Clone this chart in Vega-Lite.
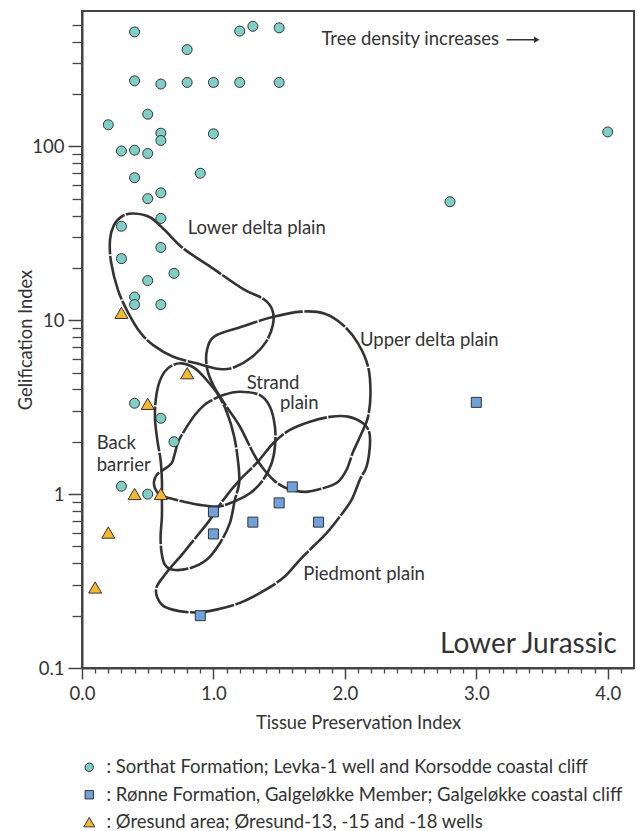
{
  "$schema": "https://vega.github.io/schema/vega-lite/v6.json",
  "width": 552,
  "height": 657,
  "autosize": {"type": "none"},
  "padding": {"left": 82, "top": 11, "right": 3, "bottom": 163},
  "background": "white",
  "config": {
    "font": "Lato",
    "view": {"stroke": "#444", "strokeWidth": 2},
    "axis": {"grid": false, "labelFont": "Lato", "titleFont": "Lato", "labelColor": "#333", "titleColor": "#333", "tickColor": "#444", "domainColor": "#444", "labelFlush": false, "labelOverlap": false, "titleFontWeight": "normal"},
    "legend": {"labelFont": "Lato", "labelColor": "#333"}
  },
  "datasets": {
    "points": [
      {"x": 0.4, "y": 455, "g": "Sorthat Formation; Levka-1 well and Korsodde coastal cliff"},
      {"x": 1.2, "y": 460, "g": "Sorthat Formation; Levka-1 well and Korsodde coastal cliff"},
      {"x": 1.3, "y": 490, "g": "Sorthat Formation; Levka-1 well and Korsodde coastal cliff"},
      {"x": 1.5, "y": 480, "g": "Sorthat Formation; Levka-1 well and Korsodde coastal cliff"},
      {"x": 0.8, "y": 360, "g": "Sorthat Formation; Levka-1 well and Korsodde coastal cliff"},
      {"x": 0.4, "y": 238, "g": "Sorthat Formation; Levka-1 well and Korsodde coastal cliff"},
      {"x": 0.6, "y": 228, "g": "Sorthat Formation; Levka-1 well and Korsodde coastal cliff"},
      {"x": 0.8, "y": 233, "g": "Sorthat Formation; Levka-1 well and Korsodde coastal cliff"},
      {"x": 1.0, "y": 233, "g": "Sorthat Formation; Levka-1 well and Korsodde coastal cliff"},
      {"x": 1.2, "y": 233, "g": "Sorthat Formation; Levka-1 well and Korsodde coastal cliff"},
      {"x": 1.5, "y": 233, "g": "Sorthat Formation; Levka-1 well and Korsodde coastal cliff"},
      {"x": 0.5, "y": 153, "g": "Sorthat Formation; Levka-1 well and Korsodde coastal cliff"},
      {"x": 0.2, "y": 133, "g": "Sorthat Formation; Levka-1 well and Korsodde coastal cliff"},
      {"x": 0.6, "y": 119, "g": "Sorthat Formation; Levka-1 well and Korsodde coastal cliff"},
      {"x": 0.6, "y": 108, "g": "Sorthat Formation; Levka-1 well and Korsodde coastal cliff"},
      {"x": 1.0, "y": 118, "g": "Sorthat Formation; Levka-1 well and Korsodde coastal cliff"},
      {"x": 0.3, "y": 94, "g": "Sorthat Formation; Levka-1 well and Korsodde coastal cliff"},
      {"x": 0.4, "y": 95, "g": "Sorthat Formation; Levka-1 well and Korsodde coastal cliff"},
      {"x": 0.5, "y": 91, "g": "Sorthat Formation; Levka-1 well and Korsodde coastal cliff"},
      {"x": 0.4, "y": 66, "g": "Sorthat Formation; Levka-1 well and Korsodde coastal cliff"},
      {"x": 0.9, "y": 70, "g": "Sorthat Formation; Levka-1 well and Korsodde coastal cliff"},
      {"x": 0.5, "y": 50, "g": "Sorthat Formation; Levka-1 well and Korsodde coastal cliff"},
      {"x": 0.6, "y": 54, "g": "Sorthat Formation; Levka-1 well and Korsodde coastal cliff"},
      {"x": 0.6, "y": 38.5, "g": "Sorthat Formation; Levka-1 well and Korsodde coastal cliff"},
      {"x": 0.3, "y": 34.7, "g": "Sorthat Formation; Levka-1 well and Korsodde coastal cliff"},
      {"x": 0.6, "y": 26.2, "g": "Sorthat Formation; Levka-1 well and Korsodde coastal cliff"},
      {"x": 0.3, "y": 22.6, "g": "Sorthat Formation; Levka-1 well and Korsodde coastal cliff"},
      {"x": 0.7, "y": 18.6, "g": "Sorthat Formation; Levka-1 well and Korsodde coastal cliff"},
      {"x": 0.5, "y": 16.9, "g": "Sorthat Formation; Levka-1 well and Korsodde coastal cliff"},
      {"x": 0.4, "y": 13.6, "g": "Sorthat Formation; Levka-1 well and Korsodde coastal cliff"},
      {"x": 0.4, "y": 12.3, "g": "Sorthat Formation; Levka-1 well and Korsodde coastal cliff"},
      {"x": 0.6, "y": 12.3, "g": "Sorthat Formation; Levka-1 well and Korsodde coastal cliff"},
      {"x": 4.0, "y": 121, "g": "Sorthat Formation; Levka-1 well and Korsodde coastal cliff"},
      {"x": 2.8, "y": 48, "g": "Sorthat Formation; Levka-1 well and Korsodde coastal cliff"},
      {"x": 0.4, "y": 3.33, "g": "Sorthat Formation; Levka-1 well and Korsodde coastal cliff"},
      {"x": 0.6, "y": 2.73, "g": "Sorthat Formation; Levka-1 well and Korsodde coastal cliff"},
      {"x": 0.7, "y": 2.0, "g": "Sorthat Formation; Levka-1 well and Korsodde coastal cliff"},
      {"x": 0.3, "y": 1.11, "g": "Sorthat Formation; Levka-1 well and Korsodde coastal cliff"},
      {"x": 0.5, "y": 1.0, "g": "Sorthat Formation; Levka-1 well and Korsodde coastal cliff"},
      {"x": 1.0, "y": 0.79, "g": "Rønne Formation, Galgeløkke Member; Galgeløkke coastal cliff"},
      {"x": 1.0, "y": 0.59, "g": "Rønne Formation, Galgeløkke Member; Galgeløkke coastal cliff"},
      {"x": 1.3, "y": 0.69, "g": "Rønne Formation, Galgeløkke Member; Galgeløkke coastal cliff"},
      {"x": 1.5, "y": 0.89, "g": "Rønne Formation, Galgeløkke Member; Galgeløkke coastal cliff"},
      {"x": 1.6, "y": 1.1, "g": "Rønne Formation, Galgeløkke Member; Galgeløkke coastal cliff"},
      {"x": 1.8, "y": 0.69, "g": "Rønne Formation, Galgeløkke Member; Galgeløkke coastal cliff"},
      {"x": 0.9, "y": 0.2, "g": "Rønne Formation, Galgeløkke Member; Galgeløkke coastal cliff"},
      {"x": 3.0, "y": 3.37, "g": "Rønne Formation, Galgeløkke Member; Galgeløkke coastal cliff"},
      {"x": 0.3, "y": 11.0, "g": "Øresund area; Øresund-13, -15 and -18 wells"},
      {"x": 0.8, "y": 4.95, "g": "Øresund area; Øresund-13, -15 and -18 wells"},
      {"x": 0.5, "y": 3.3, "g": "Øresund area; Øresund-13, -15 and -18 wells"},
      {"x": 0.4, "y": 1.0, "g": "Øresund area; Øresund-13, -15 and -18 wells"},
      {"x": 0.6, "y": 1.0, "g": "Øresund area; Øresund-13, -15 and -18 wells"},
      {"x": 0.2, "y": 0.6, "g": "Øresund area; Øresund-13, -15 and -18 wells"},
      {"x": 0.1, "y": 0.29, "g": "Øresund area; Øresund-13, -15 and -18 wells"}
    ],
    "outlines": [
      {"r": "lower", "i": 1, "x": 0.390, "y": 41.1},
      {"r": "lower", "i": 2, "x": 0.517, "y": 39.1},
      {"r": "lower", "i": 3, "x": 0.631, "y": 32.9},
      {"r": "lower", "i": 4, "x": 0.770, "y": 25.9},
      {"r": "lower", "i": 5, "x": 0.998, "y": 19.8},
      {"r": "lower", "i": 6, "x": 1.227, "y": 15.1},
      {"r": "lower", "i": 7, "x": 1.384, "y": 13.2},
      {"r": "lower", "i": 8, "x": 1.449, "y": 11.4},
      {"r": "lower", "i": 9, "x": 1.452, "y": 9.37},
      {"r": "lower", "i": 10, "x": 1.399, "y": 7.48},
      {"r": "lower", "i": 11, "x": 1.293, "y": 6.14},
      {"r": "lower", "i": 12, "x": 1.163, "y": 5.38},
      {"r": "lower", "i": 13, "x": 1.049, "y": 5.24},
      {"r": "lower", "i": 14, "x": 0.872, "y": 5.65},
      {"r": "lower", "i": 15, "x": 0.694, "y": 6.16},
      {"r": "lower", "i": 16, "x": 0.542, "y": 7.19},
      {"r": "lower", "i": 17, "x": 0.441, "y": 8.55},
      {"r": "lower", "i": 18, "x": 0.350, "y": 11.1},
      {"r": "lower", "i": 19, "x": 0.274, "y": 14.9},
      {"r": "lower", "i": 20, "x": 0.221, "y": 21.6},
      {"r": "lower", "i": 21, "x": 0.213, "y": 28.9},
      {"r": "lower", "i": 22, "x": 0.243, "y": 35.2},
      {"r": "lower", "i": 23, "x": 0.304, "y": 39.6},
      {"r": "upper", "i": 1, "x": 0.951, "y": 6.73},
      {"r": "upper", "i": 2, "x": 1.011, "y": 8.10},
      {"r": "upper", "i": 3, "x": 1.214, "y": 9.17},
      {"r": "upper", "i": 4, "x": 1.443, "y": 10.4},
      {"r": "upper", "i": 5, "x": 1.671, "y": 11.2},
      {"r": "upper", "i": 6, "x": 1.848, "y": 10.9},
      {"r": "upper", "i": 7, "x": 1.987, "y": 9.37},
      {"r": "upper", "i": 8, "x": 2.099, "y": 7.39},
      {"r": "upper", "i": 9, "x": 2.177, "y": 5.40},
      {"r": "upper", "i": 10, "x": 2.195, "y": 3.80},
      {"r": "upper", "i": 11, "x": 2.177, "y": 2.79},
      {"r": "upper", "i": 12, "x": 2.129, "y": 2.25},
      {"r": "upper", "i": 13, "x": 2.063, "y": 1.75},
      {"r": "upper", "i": 14, "x": 2.013, "y": 1.38},
      {"r": "upper", "i": 15, "x": 1.947, "y": 1.175},
      {"r": "upper", "i": 16, "x": 1.835, "y": 1.081},
      {"r": "upper", "i": 17, "x": 1.696, "y": 1.03},
      {"r": "upper", "i": 18, "x": 1.557, "y": 1.081},
      {"r": "upper", "i": 19, "x": 1.455, "y": 1.21},
      {"r": "upper", "i": 20, "x": 1.367, "y": 1.44},
      {"r": "upper", "i": 21, "x": 1.303, "y": 1.72},
      {"r": "upper", "i": 22, "x": 1.202, "y": 2.44},
      {"r": "upper", "i": 23, "x": 1.100, "y": 3.18},
      {"r": "upper", "i": 24, "x": 0.998, "y": 4.24},
      {"r": "upper", "i": 25, "x": 0.951, "y": 5.31},
      {"r": "back", "i": 1, "x": 0.758, "y": 5.65},
      {"r": "back", "i": 2, "x": 0.859, "y": 5.29},
      {"r": "back", "i": 3, "x": 0.948, "y": 4.53},
      {"r": "back", "i": 4, "x": 1.037, "y": 3.71},
      {"r": "back", "i": 5, "x": 1.105, "y": 2.92},
      {"r": "back", "i": 6, "x": 1.158, "y": 2.14},
      {"r": "back", "i": 7, "x": 1.189, "y": 1.505},
      {"r": "back", "i": 8, "x": 1.196, "y": 1.155},
      {"r": "back", "i": 9, "x": 1.163, "y": 0.926},
      {"r": "back", "i": 10, "x": 1.125, "y": 0.681},
      {"r": "back", "i": 11, "x": 1.049, "y": 0.522},
      {"r": "back", "i": 12, "x": 0.948, "y": 0.419},
      {"r": "back", "i": 13, "x": 0.821, "y": 0.375},
      {"r": "back", "i": 14, "x": 0.694, "y": 0.367},
      {"r": "back", "i": 15, "x": 0.631, "y": 0.392},
      {"r": "back", "i": 16, "x": 0.606, "y": 0.458},
      {"r": "back", "i": 17, "x": 0.598, "y": 0.570},
      {"r": "back", "i": 18, "x": 0.608, "y": 0.743},
      {"r": "back", "i": 19, "x": 0.608, "y": 0.967},
      {"r": "back", "i": 20, "x": 0.608, "y": 1.21},
      {"r": "back", "i": 21, "x": 0.598, "y": 1.57},
      {"r": "back", "i": 22, "x": 0.573, "y": 2.05},
      {"r": "back", "i": 23, "x": 0.555, "y": 2.79},
      {"r": "back", "i": 24, "x": 0.568, "y": 3.80},
      {"r": "back", "i": 25, "x": 0.606, "y": 4.73},
      {"r": "back", "i": 26, "x": 0.669, "y": 5.40},
      {"r": "strand", "i": 1, "x": 1.202, "y": 3.88},
      {"r": "strand", "i": 2, "x": 1.354, "y": 3.71},
      {"r": "strand", "i": 3, "x": 1.430, "y": 3.18},
      {"r": "strand", "i": 4, "x": 1.468, "y": 2.44},
      {"r": "strand", "i": 5, "x": 1.468, "y": 1.875},
      {"r": "strand", "i": 6, "x": 1.443, "y": 1.505},
      {"r": "strand", "i": 7, "x": 1.379, "y": 1.21},
      {"r": "strand", "i": 8, "x": 1.278, "y": 1.012},
      {"r": "strand", "i": 9, "x": 1.125, "y": 0.886},
      {"r": "strand", "i": 10, "x": 1.024, "y": 0.848},
      {"r": "strand", "i": 11, "x": 0.897, "y": 0.867},
      {"r": "strand", "i": 12, "x": 0.770, "y": 0.906},
      {"r": "strand", "i": 13, "x": 0.669, "y": 0.947},
      {"r": "strand", "i": 14, "x": 0.593, "y": 0.989},
      {"r": "strand", "i": 15, "x": 0.555, "y": 1.081},
      {"r": "strand", "i": 16, "x": 0.548, "y": 1.18},
      {"r": "strand", "i": 17, "x": 0.568, "y": 1.289},
      {"r": "strand", "i": 18, "x": 0.618, "y": 1.377},
      {"r": "strand", "i": 19, "x": 0.682, "y": 1.505},
      {"r": "strand", "i": 20, "x": 0.707, "y": 1.718},
      {"r": "strand", "i": 21, "x": 0.732, "y": 2.003},
      {"r": "strand", "i": 22, "x": 0.783, "y": 2.34},
      {"r": "strand", "i": 23, "x": 0.859, "y": 2.85},
      {"r": "strand", "i": 24, "x": 0.948, "y": 3.33},
      {"r": "strand", "i": 25, "x": 1.075, "y": 3.71},
      {"r": "piedmont", "i": 1, "x": 0.563, "y": 0.282},
      {"r": "piedmont", "i": 2, "x": 0.631, "y": 0.344},
      {"r": "piedmont", "i": 3, "x": 0.770, "y": 0.458},
      {"r": "piedmont", "i": 4, "x": 0.872, "y": 0.570},
      {"r": "piedmont", "i": 5, "x": 0.973, "y": 0.711},
      {"r": "piedmont", "i": 6, "x": 1.075, "y": 0.926},
      {"r": "piedmont", "i": 7, "x": 1.202, "y": 1.21},
      {"r": "piedmont", "i": 8, "x": 1.328, "y": 1.505},
      {"r": "piedmont", "i": 9, "x": 1.455, "y": 1.96},
      {"r": "piedmont", "i": 10, "x": 1.582, "y": 2.34},
      {"r": "piedmont", "i": 11, "x": 1.734, "y": 2.61},
      {"r": "piedmont", "i": 12, "x": 1.886, "y": 2.78},
      {"r": "piedmont", "i": 13, "x": 2.023, "y": 2.79},
      {"r": "piedmont", "i": 14, "x": 2.139, "y": 2.555},
      {"r": "piedmont", "i": 15, "x": 2.185, "y": 2.28},
      {"r": "piedmont", "i": 16, "x": 2.190, "y": 1.875},
      {"r": "piedmont", "i": 17, "x": 2.165, "y": 1.44},
      {"r": "piedmont", "i": 18, "x": 2.114, "y": 1.21},
      {"r": "piedmont", "i": 19, "x": 2.051, "y": 0.926},
      {"r": "piedmont", "i": 20, "x": 1.962, "y": 0.743},
      {"r": "piedmont", "i": 21, "x": 1.861, "y": 0.596},
      {"r": "piedmont", "i": 22, "x": 1.759, "y": 0.4995},
      {"r": "piedmont", "i": 23, "x": 1.658, "y": 0.419},
      {"r": "piedmont", "i": 24, "x": 1.531, "y": 0.330},
      {"r": "piedmont", "i": 25, "x": 1.369, "y": 0.274},
      {"r": "piedmont", "i": 26, "x": 1.202, "y": 0.237},
      {"r": "piedmont", "i": 27, "x": 1.049, "y": 0.219},
      {"r": "piedmont", "i": 28, "x": 0.897, "y": 0.209},
      {"r": "piedmont", "i": 29, "x": 0.730, "y": 0.213},
      {"r": "piedmont", "i": 30, "x": 0.608, "y": 0.231}
    ],
    "labels": [
      {"x": 1.822, "y": 380, "t": "Tree density increases"},
      {"x": 0.804, "y": 31.5, "t": "Lower delta plain"},
      {"x": 2.115, "y": 7.10, "t": "Upper delta plain"},
      {"x": 1.253, "y": 4.00, "t": "Strand"},
      {"x": 1.506, "y": 3.09, "t": "plain"},
      {"x": 0.112, "y": 1.82, "t": "Back"},
      {"x": 0.112, "y": 1.365, "t": "barrier"},
      {"x": 1.684, "y": 0.3216, "t": "Piedmont plain"}
    ],
    "corner": [{"x": 4.07, "y": 0.122, "t": "Lower Jurassic"}],
    "arrow": [{"x": 3.23, "x2": 3.44, "y": 410}],
    "head": [{"x": 3.46, "y": 410}]
  },
  "layer": [
    {
      "data": {"name": "outlines"},
      "mark": {"type": "line", "interpolate": "cardinal-closed", "stroke": "#333", "strokeWidth": 2.6, "strokeDash": [45, 1.5]},
      "encoding": {
        "x": {"field": "x", "type": "quantitative", "scale": {"domain": [0, 4.2], "nice": false, "zero": false},
          "axis": {"orient": "bottom", "offset": 0, "domain": false, "labels": false, "title": null, "tickSize": 5, "tickWidth": 1.3,
            "values": [0.1,0.2,0.3,0.4,0.5,0.6,0.7,0.8,0.9,1.1,1.2,1.3,1.4,1.5,1.6,1.7,1.8,1.9,2.1,2.2,2.3,2.4,2.5,2.6,2.7,2.8,2.9,3.1,3.2,3.3,3.4,3.5,3.6,3.7,3.8,3.9,4.1]}},
        "y": {"field": "y", "type": "quantitative", "scale": {"type": "log", "domain": [0.1, 600], "nice": false},
          "axis": {"orient": "left", "offset": 0, "domain": false, "labels": false, "title": null, "tickSize": 10, "tickWidth": 1.3,
            "values": [0.2,0.3,0.4,0.5,0.6,0.7,0.8,0.9,2,3,4,5,6,7,8,9,20,30,40,50,60,70,80,90,200,300,400,500]}},
        "detail": {"field": "r", "type": "nominal"},
        "order": {"field": "i", "type": "quantitative"}
      }
    },
    {
      "data": {"name": "points"},
      "mark": {"type": "point", "filled": true, "opacity": 1, "stroke": "#333", "strokeWidth": 1, "size": 100},
      "encoding": {
        "x": {"field": "x", "type": "quantitative", "scale": {"domain": [0, 4.2], "nice": false, "zero": false},
          "axis": {"orient": "bottom", "offset": 0, "values": [0, 1, 2, 3, 4], "format": ".1f", "tickSize": 11, "tickWidth": 1.5, "domainWidth": 2, "labelFontSize": 18.5, "labelPadding": 5, "title": "Tissue Preservation Index", "titleFontSize": 18.3, "titlePadding": 12}},
        "y": {"field": "y", "type": "quantitative", "scale": {"type": "log", "domain": [0.1, 600], "nice": false},
          "axis": {"orient": "left", "offset": 0, "values": [0.1, 1, 10, 100], "labelExpr": "datum.value < 1 ? '0.1' : format(datum.value, 'd')", "tickSize": 14, "tickWidth": 1.5, "domainWidth": 2, "labelFontSize": 18.5, "labelPadding": 4, "title": "Gelification Index", "titleFontSize": 18.3, "titlePadding": -4}},
        "fill": {"field": "g", "type": "nominal",
          "scale": {"domain": ["Sorthat Formation; Levka-1 well and Korsodde coastal cliff", "Rønne Formation, Galgeløkke Member; Galgeløkke coastal cliff", "Øresund area; Øresund-13, -15 and -18 wells"], "range": ["#7fcfc7", "#6fa2dc", "#f6b731"]},
          "legend": {"orient": "none", "legendX": -2, "legendY": 747, "title": null, "direction": "vertical", "labelExpr": "': ' + datum.label", "labelFontSize": 18.5, "labelLimit": 700, "labelOffset": 8, "rowPadding": 8.5, "symbolSize": 70, "symbolStrokeColor": "#333", "symbolStrokeWidth": 1, "padding": 0}},
        "shape": {"field": "g", "type": "nominal",
          "scale": {"domain": ["Sorthat Formation; Levka-1 well and Korsodde coastal cliff", "Rønne Formation, Galgeløkke Member; Galgeløkke coastal cliff", "Øresund area; Øresund-13, -15 and -18 wells"], "range": ["circle", "square", "M0,-1.15L1.3,1.1L-1.3,1.1Z"]}}
      }
    },
    {
      "data": {"name": "labels"},
      "mark": {"type": "text", "align": "left", "baseline": "alphabetic", "fontSize": 18.5, "font": "Lato", "color": "#333"},
      "encoding": {
        "x": {"field": "x", "type": "quantitative", "axis": null},
        "y": {"field": "y", "type": "quantitative", "axis": null},
        "text": {"field": "t"}
      }
    },
    {
      "data": {"name": "corner"},
      "mark": {"type": "text", "align": "right", "baseline": "alphabetic", "fontSize": 28, "font": "Lato", "color": "#333"},
      "encoding": {
        "x": {"field": "x", "type": "quantitative", "axis": null},
        "y": {"field": "y", "type": "quantitative", "axis": null},
        "text": {"field": "t"}
      }
    },
    {
      "data": {"name": "arrow"},
      "mark": {"type": "rule", "stroke": "#333", "strokeWidth": 1.5},
      "encoding": {
        "x": {"field": "x", "type": "quantitative", "axis": null},
        "x2": {"field": "x2"},
        "y": {"field": "y", "type": "quantitative", "axis": null}
      }
    },
    {
      "data": {"name": "head"},
      "mark": {"type": "point", "shape": "triangle-right", "filled": true, "color": "#333", "size": 40, "opacity": 1},
      "encoding": {
        "x": {"field": "x", "type": "quantitative", "axis": null},
        "y": {"field": "y", "type": "quantitative", "axis": null}
      }
    }
  ],
  "resolve": {"axis": {"x": "independent", "y": "independent"}}
}
